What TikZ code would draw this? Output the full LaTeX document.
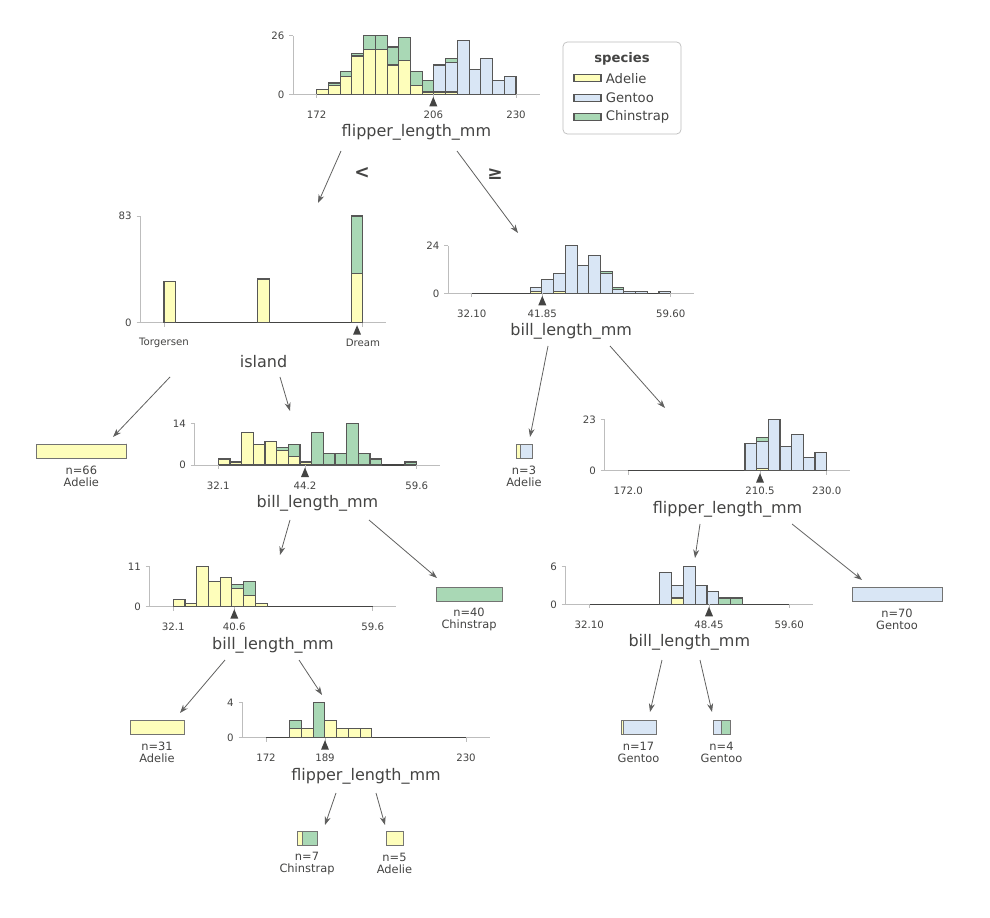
\documentclass[tikz,border=0pt]{standalone}
\usepackage{fontspec}
\setmainfont{DejaVu Sans}
\usetikzlibrary{arrows.meta, positioning, calc}

% ---------------------------------------------------------------- colours
\definecolor{adelie}{HTML}{FEFEBB}
\definecolor{gentoo}{HTML}{D9E6F5}
\definecolor{chinstrap}{HTML}{A9D8B5}
\definecolor{edgecol}{HTML}{444443}
\definecolor{axiscol}{HTML}{BDBDBD}
\definecolor{textcol}{HTML}{444443}

\tikzset{
    histbar/.style={draw=edgecol!90, line width=0.62pt},
    axisline/.style={draw=axiscol, line width=0.55pt},
    zeroline/.style={draw=edgecol, line width=0.6pt},
    ticklbl/.style={font=\fontsize{5.8}{7}\selectfont, text=textcol, inner sep=0pt},
    featlbl/.style={font=\fontsize{9.1}{11}\selectfont, text=textcol, inner sep=0pt},
    leaflbl/.style={font=\fontsize{6.5}{7.2}\selectfont, text=textcol, align=center, inner sep=0pt},
    splitlbl/.style={font=\fontsize{10.5}{12}\selectfont\bfseries, text=textcol, inner sep=0pt},
    legendlbl/.style={font=\fontsize{7.5}{9}\selectfont, text=textcol, inner sep=0pt, anchor=west},
    edgearrow/.style={draw=edgecol!85, line width=0.45pt, -{Stealth[length=4.8pt, width=3.4pt]}},
    leafrect/.style={draw=edgecol!75, line width=0.55pt},
}

% axes of one histogram: #1 first tick x, #2 last tick x, #3 baseline y, #4 px per count, #5 top count
\newcommand\histaxes[5]{%
    \pgfmathsetmacro{\ytop}{#3-#5*#4}
    \draw[axisline] ({#1-23.5}, #3) -- ({#2+23.5}, #3);
    \draw[axisline] ({#1-23.5}, #3) -- ({#1-23.5}, \ytop);
    \draw[axisline] ({#1-27.5}, #3) -- ({#1-23.5}, #3);
    \draw[axisline] ({#1-27.5}, \ytop) -- ({#1-23.5}, \ytop);
    \node[ticklbl, anchor=east] at ({#1-32}, #3) {0};
    \node[ticklbl, anchor=east] at ({#1-32}, \ytop) {#5};
    \draw[zeroline] (#1, #3) -- (#2, #3);
}

% stacked bars: #1 first tick x, #2 bar width, #3 baseline y, #4 px per count, #5 bin/adelie/gentoo/chinstrap
\newcommand\histbars[5]{%
    \foreach \bin/\na/\ng/\nc in {#5} {
        \pgfmathsetmacro{\xl}{#1+\bin*#2}
        \pgfmathsetmacro{\xr}{\xl+#2}
        \pgfmathsetmacro{\ya}{#3-\na*#4}
        \pgfmathsetmacro{\yg}{\ya-\ng*#4}
        \pgfmathsetmacro{\yc}{\yg-\nc*#4}
        \ifnum\na>0 \draw[histbar, fill=adelie] (\xl, #3) rectangle (\xr, \ya);\fi
        \ifnum\ng>0 \draw[histbar, fill=gentoo] (\xl, \ya) rectangle (\xr, \yg);\fi
        \ifnum\nc>0 \draw[histbar, fill=chinstrap] (\xl, \yg) rectangle (\xr, \yc);\fi
    }%
}

% x ticks: #1 baseline y, #2 list x/label
\newcommand\histticks[2]{%
    \foreach \tx/\tlab in {#2} {
        \draw[axisline] (\tx, #1) -- (\tx, {#1+4});
        \node[ticklbl] at (\tx, {#1+20.5}) {\tlab};
    }%
}

% split marker: #1 x, #2 baseline y
\newcommand\splitmark[2]{%
    \fill[edgecol] (#1, {#2+2.5}) -- ({#1-4}, {#2+12}) -- ({#1+4}, {#2+12}) -- cycle;
}

% leaf: #1 name, #2 left, #3 right, #4 top, #5 first colour, #6 second colour, #7 share of first, #8 n, #9 class
\newcommand\leafbox[9]{%
    \pgfmathsetmacro{\xm}{#2+#7*(#3-#2)}
    \draw[leafrect, fill=#5] (#2, #4) rectangle (\xm, {#4+14});
    \draw[leafrect, fill=#6] (\xm, #4) rectangle (#3, {#4+14});
    \coordinate (#1) at ({(#2+#3)/2}, #4);
    \node[leaflbl] (#1-txt) at ({(#2+#3)/2}, {#4+32.5}) {n=#8\\#9};
}

\begin{document}
\begin{tikzpicture}[x=0.02cm, y=-0.02cm]

\fill[white] (0, 0) rectangle (990, 918);
\useasboundingbox (0, 0) rectangle (990, 918);

% ---------------------------------------------------------------- root: flipper length
\histaxes{316.7}{516}{94.3}{2.254}{26}
\histbars{316.7}{11.724}{94.3}{2.254}{0/2/0/0, 1/4/0/1, 2/8/0/2, 3/17/0/1, 4/20/0/6, 5/20/0/6,
    6/13/0/8, 7/15/0/10, 8/4/0/6, 9/1/0/5, 10/1/12/0, 11/1/13/2, 12/0/24/0, 13/0/11/0,
    14/0/16/0, 15/0/6/0, 16/0/8/0}
\histticks{94.3}{316.7/172, 433.3/206, 516/230}
\splitmark{433.3}{94.3}
\node[featlbl] (root) at (416.4, 132.8) {flipper\_length\_mm};

% ---------------------------------------------------------------- legend
\draw[draw=axiscol, fill=white, rounded corners=2.5pt] (563, 42) rectangle (681, 134);
\node[font=\fontsize{7.5}{9}\selectfont\bfseries, text=textcol, inner sep=0pt] (legtitle) at (622, 59) {species};
\foreach \y/\c/\s in {78.3/adelie/Adelie, 97.7/gentoo/Gentoo, 116.7/chinstrap/Chinstrap} {
    \draw[histbar, fill=\c] (574, {\y-3.5}) rectangle (601, {\y+3.5});
    \node[legendlbl] (leg-\s) at (605.5, \y) {\s};
}

% ---------------------------------------------------------------- island
\histaxes{164}{362.9}{322.7}{1.2855}{83}
\histbars{164}{11.7}{322.7}{1.2855}{0/32/0/0, 8/34/0/0, 16/38/0/45}
\histticks{322.7}{164/Torgersen, 362.9/Dream}
\splitmark{357.05}{322.7}
\node[featlbl] (island) at (263.5, 361.2) {island};

% ---------------------------------------------------------------- right: bill length
\histaxes{471.7}{670.7}{293.3}{1.983}{24}
\histbars{471.7}{11.706}{293.3}{1.983}{5/1/2/0, 6/0/7/0, 7/1/9/0, 8/0/24/0, 9/0/14/0, 10/0/19/0,
    11/0/10/1, 12/0/2/1, 13/0/1/0, 14/0/1/0, 16/0/1/0}
\histticks{293.3}{471.7/32.10, 542.3/41.85, 670.7/59.60}
\splitmark{542.3}{293.3}
\node[featlbl] (rbill) at (571.2, 331.8) {bill\_length\_mm};

% ---------------------------------------------------------------- middle: bill length
\histaxes{218.3}{416.7}{465}{2.979}{14}
\histbars{218.3}{11.67}{465}{2.979}{0/2/0/0, 1/1/0/0, 2/11/0/0, 3/7/0/0, 4/8/0/0, 5/5/0/1,
    6/3/0/4, 7/1/0/0, 8/0/0/11, 9/0/0/4, 10/0/0/4, 11/0/0/14, 12/0/0/4, 13/0/0/2, 16/0/0/1}
\histticks{465}{218.3/32.1, 305/44.2, 416.7/59.6}
\splitmark{305}{465}
\node[featlbl] (mbill) at (317.5, 503.5) {bill\_length\_mm};

% ---------------------------------------------------------------- right: flipper length
\histaxes{628.3}{826.7}{470.7}{2.235}{23}
\histbars{628.3}{11.67}{470.7}{2.235}{10/0/12/0, 11/1/12/2, 12/0/23/0, 13/0/11/0, 14/0/16/0,
    15/0/6/0, 16/0/8/0}
\histticks{470.7}{628.3/172.0, 760/210.5, 826.7/230.0}
\splitmark{760}{470.7}
\node[featlbl] (rflip) at (727.5, 509.2) {flipper\_length\_mm};

% ---------------------------------------------------------------- lower left: bill length
\histaxes{173.3}{372.7}{606.7}{3.636}{11}
\histbars{173.3}{11.73}{606.7}{3.636}{0/2/0/0, 1/1/0/0, 2/11/0/0, 3/7/0/0, 4/8/0/0, 5/5/0/1,
    6/3/0/4, 7/1/0/0}
\histticks{606.7}{173.3/32.1, 234.3/40.6, 372.7/59.6}
\splitmark{234.3}{606.7}
\node[featlbl] (lbill) at (273, 645.2) {bill\_length\_mm};

% ---------------------------------------------------------------- lower right: bill length
\histaxes{589.3}{789.3}{604.3}{6.27}{6}
\histbars{589.3}{11.765}{604.3}{6.27}{6/0/5/0, 7/1/2/0, 8/0/6/0, 9/0/3/0, 10/0/2/0, 11/0/0/1, 12/0/0/1}
\histticks{604.3}{589.3/32.10, 709/48.45, 789.3/59.60}
\splitmark{709}{604.3}
\node[featlbl] (bbill) at (689.3, 642.8) {bill\_length\_mm};

% ---------------------------------------------------------------- bottom: flipper length
\histaxes{266}{466}{737.7}{8.75}{4}
\histbars{266}{11.765}{737.7}{8.75}{2/1/0/1, 3/1/0/0, 4/0/0/4, 5/2/0/0, 6/1/0/0, 7/1/0/0, 8/1/0/0}
\histticks{737.7}{266/172, 325/189, 466/230}
\splitmark{325}{737.7}
\node[featlbl] (bflip) at (366, 776.2) {flipper\_length\_mm};

% ---------------------------------------------------------------- leaves
\leafbox{L66}{36}{126.7}{444}{adelie}{adelie}{1}{66}{Adelie}
\leafbox{L3}{516}{532}{444}{adelie}{gentoo}{0.3}{3}{Adelie}
\leafbox{L40}{436}{502}{587}{chinstrap}{chinstrap}{1}{40}{Chinstrap}
\leafbox{L70}{852}{942}{587}{gentoo}{gentoo}{1}{70}{Gentoo}
\leafbox{L31}{130}{184}{720}{adelie}{adelie}{1}{31}{Adelie}
\leafbox{L17}{621}{656}{720}{adelie}{gentoo}{0.06}{17}{Gentoo}
\leafbox{L4}{713}{730}{720}{gentoo}{chinstrap}{0.5}{4}{Gentoo}
\leafbox{L7}{297}{317}{831}{adelie}{chinstrap}{0.286}{7}{Chinstrap}
\leafbox{L5}{386}{403}{831}{adelie}{adelie}{1}{5}{Adelie}

% ---------------------------------------------------------------- split labels
\node[splitlbl] (lt) at (362, 173) {<};
\node[splitlbl] (ge) at (495, 174) {≥};

% ---------------------------------------------------------------- edges
\foreach \e/\xa/\ya/\xb/\yb in {
    rootl/341/151/318/203, rootr/457/151/518/233,
    islandl/170/377/113/437, islandr/280/377/290/411,
    rbilll/548/346/530/437, rbillr/610/346/665/408,
    mbilll/290/520/280/555, mbillr/369/520/437/578,
    rflipl/700/524/695/558, rflipr/792/524/862/580,
    lbilll/225/660/180/713, lbillr/299/660/322/695,
    bbilll/662/660/650/712, bbillr/700/660/712/712,
    bflipl/336/793/325/825, bflipr/376/793/385/825} {
    \coordinate (\e-a) at (\xa, \ya);
    \coordinate (\e-b) at (\xb, \yb);
    \draw[edgearrow] (\e-a) -- (\e-b);
}

\end{tikzpicture}
\end{document}
